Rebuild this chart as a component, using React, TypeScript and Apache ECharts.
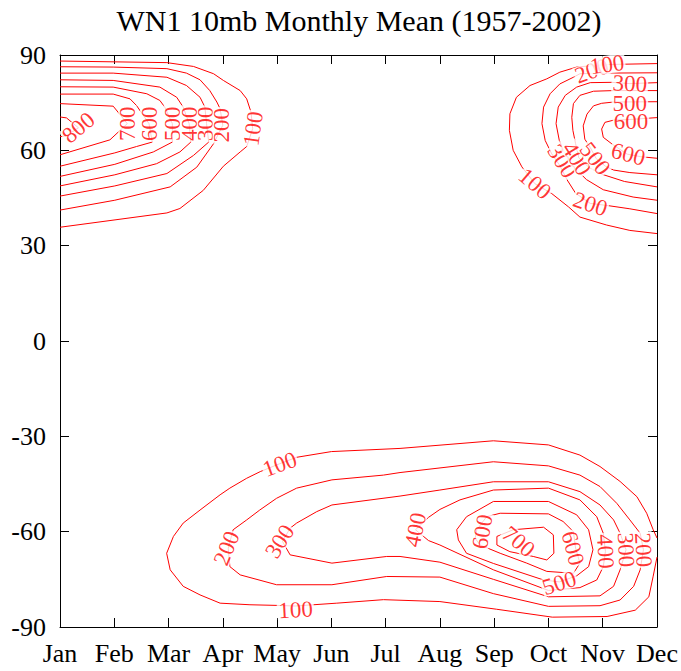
import React, { useEffect, useRef } from 'react';
import * as echarts from 'echarts';

const TITLE = 'WN1 10mb Monthly Mean (1957-2002)';
const MONTHS = ['Jan', 'Feb', 'Mar', 'Apr', 'May', 'Jun', 'Jul', 'Aug', 'Sep', 'Oct', 'Nov', 'Dec'];
const LAT_MIN = -90;
const LAT_MAX = 90;
const LAT_STEP = 30;

// Contour polylines, [month index (Jan = 0), latitude]
// Northern hemisphere, early-year (Jan-Apr) maximum
const NH_WEST_100 = [[0, 88.1], [1.97, 87.6], [2.46, 86.4], [2.83, 84.1], [3.01, 82.0], [3.32, 78.8], [3.44, 76.2], [3.52, 72.0], [3.55, 66.8], [3.44, 61.2], [3.32, 59.5], [3.01, 55.0], [2.64, 47.4], [2.21, 41.7], [1.97, 40.3], [0, 35.8]];
const NH_WEST_200 = [[0, 86.3], [0.98, 86.2], [1.97, 85.7], [2.33, 84.3], [2.58, 82.2], [2.76, 78.8], [2.89, 75.2], [2.95, 73.1], [3.0, 67.9], [2.83, 62.1], [2.52, 54.7], [2.03, 48.5], [1.01, 44.3], [0, 41.2]];
const NH_WEST_300 = [[0, 84.3], [0.98, 84.3], [1.97, 83.0], [2.33, 80.4], [2.58, 76.7], [2.67, 73.6], [2.7, 68.4], [2.74, 62.6], [2.46, 58.4], [1.97, 52.7], [1.01, 48.8], [0, 45.6]];
const NH_WEST_400 = [[0, 82.2], [0.98, 82.0], [1.84, 79.9], [2.15, 76.7], [2.27, 73.6], [2.38, 68.4], [2.41, 62.6], [2.21, 59.5], [1.78, 55.8], [1.01, 52.3], [0, 48.8]];
const NH_WEST_500 = [[0, 80.0], [0.98, 79.9], [1.6, 77.8], [1.84, 75.7], [1.93, 73.6], [2.07, 68.4], [2.07, 62.6], [1.72, 59.5], [1.01, 55.6], [0, 51.8]];
const NH_WEST_600 = [[0, 77.7], [0.98, 77.7], [1.29, 76.2], [1.41, 74.1], [1.64, 68.4], [1.7, 62.6], [1.41, 61.2], [1.01, 59.2], [0, 55.0]];
const NH_WEST_700 = [[0, 74.7], [0.98, 73.9], [1.24, 68.4], [0.92, 63.3], [0, 58.6]];
const NH_WEST_800 = [[0, 70.5], [0.12, 70.2], [0.34, 67.1], [0.12, 64.6], [0, 64.3]];

// Northern hemisphere, late-year (Oct-Dec) maximum
const NH_EAST_100 = [[11, 87.3], [10.06, 87.0], [9.52, 86.2], [9.21, 84.6], [8.97, 82.5], [8.66, 80.4], [8.41, 76.7], [8.29, 71.5], [8.28, 66.3], [8.35, 60.0], [8.51, 54.8], [8.75, 49.5], [9.06, 46.4], [9.37, 42.2], [9.58, 39.0], [10.07, 36.5], [10.5, 34.8], [11, 33.8]];
const NH_EAST_200 = [[11, 84.4], [10.0, 84.3], [9.58, 84.1], [9.46, 83.0], [9.21, 80.9], [9.03, 77.8], [8.91, 73.6], [8.88, 68.4], [8.94, 63.1], [9.06, 58.9], [9.21, 55.2], [9.34, 50.8], [9.5, 46.5], [9.77, 43.3], [10.1, 42.6], [10.5, 41.6], [11, 40.1]];
const NH_EAST_300 = [[11, 81.3], [10.5, 81.0], [10.16, 81.4], [9.77, 81.3], [9.52, 79.9], [9.31, 77.3], [9.18, 73.6], [9.14, 68.4], [9.2, 63.1], [9.3, 59.0], [9.45, 55.0], [9.7, 50.8], [10.01, 47.6], [10.56, 45.3], [11, 44.3]];
const NH_EAST_400 = [[11, 78.8], [10.2, 78.8], [9.83, 78.6], [9.58, 77.3], [9.46, 74.7], [9.43, 70.4], [9.45, 66.3], [9.5, 62.1], [9.56, 57.6], [9.75, 54.6], [10.0, 52.4], [10.4, 50.2], [11, 48.5]];
const NH_EAST_500 = [[11, 75.3], [10.2, 75.2], [9.98, 74.8], [9.83, 74.0], [9.71, 71.4], [9.64, 67.7], [9.67, 63.5], [9.77, 60.9], [9.88, 57.4], [10.05, 55.0], [10.2, 53.8], [10.5, 53.0], [11, 52.3]];
const NH_EAST_600 = [[11, 70.3], [10.5, 69.7], [10.2, 69.5], [10.04, 68.8], [9.98, 66.7], [10.01, 64.1], [10.17, 62.0], [10.45, 58.8], [10.7, 58.0], [11, 57.5]];

// Southern hemisphere
const SH_100 = [[11, -62.0], [10.93, -59.4], [10.81, -54.2], [10.63, -49.0], [10.32, -44.2], [9.95, -39.5], [9.58, -35.9], [9.0, -32.7], [7.985, -31.4], [6.265, -33.8], [5.0, -34.8], [4.36, -36.6], [4.05, -38.6], [3.69, -41.1], [3.44, -43.2], [3.13, -46.3], [2.95, -48.4], [2.58, -53.2], [2.27, -57.3], [2.09, -61.5], [1.965, -66.8], [2.03, -72.0], [2.27, -77.2], [2.58, -79.9], [2.95, -82.5], [3.5, -83.0], [3.99, -83.2], [4.34, -83.4], [4.67, -83.0], [5.1, -82.5], [5.96, -81.4], [7.0, -82.0], [8.04, -84.4], [9.07, -86.9], [10.08, -86.7], [10.6, -84.7], [10.85, -80.5], [10.93, -74.0], [11, -68.0]];
const SH_200 = [[3.1, -65.2], [3.19, -59.4], [3.44, -56.3], [3.68, -53.2], [3.99, -49.5], [4.36, -46.3], [5.01, -43.7], [5.96, -42.2], [6.265, -41.4], [7.985, -38.0], [9.0, -39.3], [9.58, -42.2], [9.95, -45.8], [10.26, -51.1], [10.5, -56.3], [10.69, -60.5], [10.75, -65.7], [10.69, -72.0], [10.57, -77.2], [10.32, -81.5], [9.95, -83.3], [9.0, -83.5], [7.985, -79.5], [7.0, -74.3], [6.02, -74.1], [5.01, -76.7], [3.99, -76.7], [3.32, -73.6], [3.13, -71.0], [3.1, -65.2]];
const SH_300 = [[4.1, -63.1], [4.24, -58.9], [4.36, -57.3], [4.73, -53.7], [5.01, -51.6], [6.265, -48.8], [7.0, -46.9], [7.985, -44.3], [9.0, -44.3], [9.58, -47.4], [9.95, -51.6], [10.2, -56.3], [10.32, -60.5], [10.43, -65.7], [10.32, -72.0], [10.2, -77.2], [9.95, -80.2], [9.0, -80.5], [7.985, -75.0], [7.0, -69.6], [6.265, -67.8], [6.02, -67.8], [5.01, -69.9], [4.24, -67.3], [4.1, -63.1]];
const SH_400 = [[6.55, -59.4], [6.79, -55.5], [7.0, -53.0], [7.37, -50.0], [7.985, -46.9], [9.0, -46.3], [9.58, -50.0], [9.89, -55.3], [10.01, -60.5], [10.05, -66.2], [10.01, -71.0], [9.89, -75.2], [9.58, -77.6], [9.0, -78.5], [7.985, -72.0], [7.0, -64.2], [6.79, -62.8], [6.55, -59.4]];
const SH_500 = [[7.31, -59.4], [7.49, -55.3], [7.985, -50.5], [9.0, -50.5], [9.52, -54.7], [9.74, -59.4], [9.82, -65.7], [9.74, -71.0], [9.52, -73.9], [9.2, -75.8], [8.91, -75.2], [7.985, -70.0], [7.49, -66.8], [7.34, -62.6], [7.31, -59.4]];
const SH_600 = [[7.68, -59.4], [7.86, -55.3], [8.11, -54.2], [9.0, -54.4], [9.27, -56.8], [9.46, -60.0], [9.5, -65.2], [9.58, -69.9], [9.46, -73.1], [8.97, -72.5], [8.6, -69.9], [8.11, -66.8], [7.74, -64.2], [7.65, -62.1], [7.68, -59.4]];
const SH_700 = [[8.05, -61.5], [8.35, -59.4], [8.91, -58.6], [9.09, -61.0], [9.1, -66.8], [8.97, -68.9], [8.72, -67.8], [8.29, -66.3], [8.05, -64.2], [8.05, -61.5]];

const CONTOURS = [
  NH_WEST_100, NH_WEST_200, NH_WEST_300, NH_WEST_400, NH_WEST_500, NH_WEST_600, NH_WEST_700, NH_WEST_800,
  NH_EAST_100, NH_EAST_200, NH_EAST_300, NH_EAST_400, NH_EAST_500, NH_EAST_600,
  SH_100, SH_200, SH_300, SH_400, SH_500, SH_600, SH_700,
];

// Contour labels: level, month index, latitude
const LABEL_LEVELS = [800, 700, 600, 500, 400, 300, 200, 100,
  200, 100, 300, 500, 600, 100, 200, 300, 400, 500, 600,
  100, 100, 200, 300, 400, 600, 700, 600, 500, 400, 300, 200];
const LABEL_MONTHS = [0.34, 1.24, 1.64, 2.07, 2.38, 2.69, 2.98, 3.56,
  9.8, 10.08, 10.5, 10.5, 10.52, 8.75, 9.77, 9.25, 9.52, 9.86, 10.47,
  4.05, 4.34, 3.07, 4.05, 6.55, 7.78, 8.45, 9.45, 9.2, 10.05, 10.43, 10.75];
const LABEL_LATS = [67.1, 68.4, 68.4, 68.4, 68.4, 68.4, 67.9, 66.8,
  85.0, 87.0, 81.0, 74.8, 69.2, 49.5, 43.1, 56.6, 57.4, 57.4, 58.8,
  -38.8, -84.6, -65.2, -63.1, -59.4, -60.0, -63.1, -65.2, -76.2, -66.2, -65.7, -65.7];
const LABEL_ANGLES = [40, 90, 90, 90, 90, 90, 90, 82,
  20, 8, -3, 0, 0, -40, -18, -58, -58, -52, -15,
  20, 3, 68, 58, 78, 80, -40, -75, 18, -87, -87, -87];

const FONT = '"Liberation Serif", "Times New Roman", Times, serif';
const RED = '#ff0000';

export default function App() {
  const ref = useRef<HTMLDivElement>(null);
  useEffect(() => {
    if (!ref.current) return;
    const chart = echarts.init(ref.current, undefined, { renderer: 'svg' });
    const lineSeries = CONTOURS.map((pts) => ({
      type: 'line',
      data: pts,
      showSymbol: false,
      symbol: 'none',
      silent: true,
      smooth: false,
      lineStyle: { color: RED, width: 1 },
      z: 2,
    }));
    const labelSeries = {
      type: 'scatter',
      silent: true,
      symbolSize: 1,
      itemStyle: { color: 'rgba(0,0,0,0)' },
      z: 5,
      data: LABEL_LEVELS.map((lvl, i) => ({
        value: [LABEL_MONTHS[i], LABEL_LATS[i]],
        label: { rotate: LABEL_ANGLES[i], formatter: String(lvl) },
      })),
      label: {
        show: true,
        position: 'inside',
        color: RED,
        fontSize: 23,
        fontFamily: FONT,
        backgroundColor: '#ffffff',
        padding: [0, 1],
        lineHeight: 18,
      },
    };
    const axisLineStyle = { color: '#000', width: 1 };
    const frameAxis = {
      axisLine: { show: true, onZero: false, lineStyle: axisLineStyle },
      axisTick: { show: true, inside: true, length: 9, lineStyle: axisLineStyle },
      splitLine: { show: false },
    };
    chart.setOption({
      animation: false,
      backgroundColor: '#ffffff',
      graphic: [
        {
          type: 'text',
          x: 359,
          y: 5,
          style: {
            text: TITLE,
            fill: '#000',
            font: `30px ${FONT}`,
            textAlign: 'center',
            textVerticalAlign: 'top',
          },
        },
      ],
      grid: { left: 60, right: 24, top: 55, bottom: 44, containLabel: false },
      xAxis: [
        {
          type: 'value', min: 0, max: MONTHS.length - 1, interval: 1, position: 'bottom',
          ...frameAxis,
          axisLabel: {
            formatter: (v: number) => MONTHS[Math.round(v)] ?? '',
            color: '#000', fontSize: 26, fontFamily: FONT, margin: 13,
          },
        },
        {
          type: 'value', min: 0, max: MONTHS.length - 1, interval: 1, position: 'top',
          ...frameAxis,
          axisLabel: { show: false },
        },
      ],
      yAxis: [
        {
          type: 'value', min: LAT_MIN, max: LAT_MAX, interval: LAT_STEP, position: 'left',
          ...frameAxis,
          axisLabel: { color: '#000', fontSize: 26, fontFamily: FONT, margin: 14 },
        },
        {
          type: 'value', min: LAT_MIN, max: LAT_MAX, interval: LAT_STEP, position: 'right',
          ...frameAxis,
          axisLabel: { show: false },
        },
      ],
      series: [...lineSeries, labelSeries],
    });
    return () => chart.dispose();
  }, []);
  return <div ref={ref} style={{ position: 'absolute', left: 0, top: 0, width: 681, height: 671, background: '#fff' }} />;
}
